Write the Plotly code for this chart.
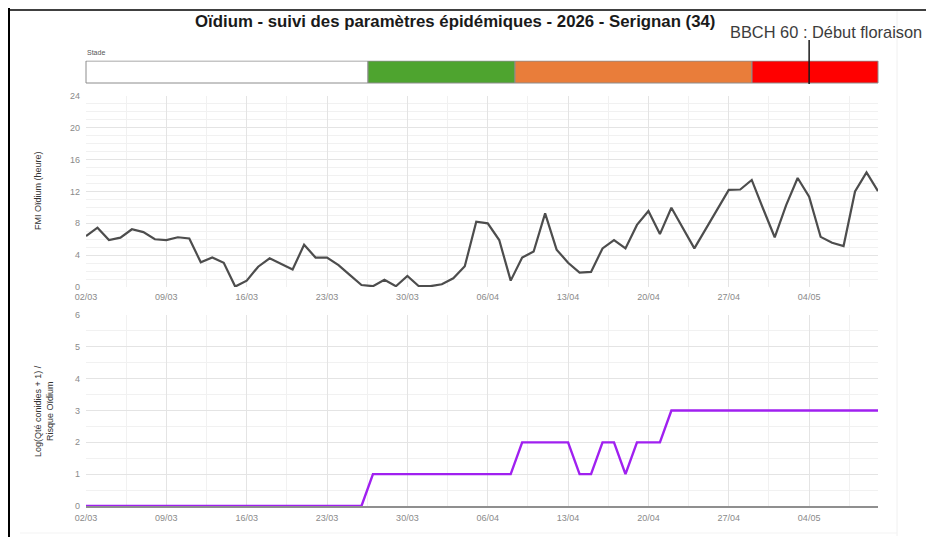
import plotly.graph_objects as go
import pandas as pd

# ---------------- data ----------------
start_date = "2026-03-02"
end_date = "2026-05-10"
dates = pd.date_range(start_date, end_date, freq="D")

fmi_hours = [6.4, 7.45, 5.9, 6.2, 7.25, 6.9, 6.0,
             5.9, 6.25, 6.1, 3.1, 3.7, 3.05, 0.05,
             0.8, 2.55, 3.6, 2.9, 2.2, 5.3, 3.7,
             3.7, 2.75, 1.5, 0.25, 0.1, 0.9, 0.1,
             1.4, 0.1, 0.1, 0.35, 1.1, 2.6, 8.2,
             8.0, 5.9, 0.8, 3.7, 4.45, 9.25, 4.7,
             3.05, 1.8, 1.9, 4.85, 5.9, 4.85, 7.8,
             9.55, 6.65, 9.95, 7.35, 4.85, 7.3, 9.8,
             12.2, 12.25, 13.45, 9.8, 6.25, 10.3, 13.7,
             11.35, 6.3, 5.55, 5.15, 12.0, 14.4, 12.05]

risk_log = [0] * 25 + [1] * 13 + [2] * 5 + [1] * 2 + [2] * 2 + [1] + [2] * 3 + [3] * 19

stage_starts = ["2026-03-02 00:00", "2026-03-26 14:24", "2026-04-08 09:36", "2026-04-29 02:24"]
stage_ends = ["2026-03-26 14:24", "2026-04-08 09:36", "2026-04-29 02:24", "2026-05-10 00:00"]
stage_colors = ["#ffffff", "#4ea42f", "#e97d3a", "#ff0000"]

bbch_date = "2026-05-04"
bbch_label = "BBCH 60 : Début floraison"
title_text = "Oïdium - suivi des paramètres épidémiques - 2026 - Serignan (34)"
y1_title = "FMI Oïdium (heure)"
y2_title = "Log(Qté conidies + 1) /<br>Risque Oïdium"
stade_label = "Stade"

# ---------------- layout helpers ----------------
W, H = 934, 537
OFF = 8  # page body margin
def px(x):
    return (x - OFF) / W
def py(y):
    return 1 - (y - OFF) / H

X0, X1 = 86, 878
FONT = "Liberation Sans, Arial, sans-serif"

# stade axis is slightly wider on each side so the bar outline is not clipped
ms_per_px = (pd.Timestamp(end_date) - pd.Timestamp(start_date)).total_seconds() * 1000 / (X1 - X0)
stade_range = [pd.Timestamp(start_date) - pd.Timedelta(milliseconds=1.5 * ms_per_px),
               pd.Timestamp(end_date) + pd.Timedelta(milliseconds=1.5 * ms_per_px)]

fig = go.Figure()

# Stade bar (timeline)
durations = [(pd.Timestamp(e) - pd.Timestamp(s)).total_seconds() * 1000 for s, e in zip(stage_starts, stage_ends)]
fig.add_trace(go.Bar(
    x=durations, base=stage_starts, y=[0] * len(durations), width=1,
    orientation="h", marker=dict(color=stage_colors, line=dict(color="#8c8c8c", width=1)),
    xaxis="x3", yaxis="y3", showlegend=False, hoverinfo="skip"))

# FMI line
fig.add_trace(go.Scatter(x=dates, y=fmi_hours, mode="lines",
                         line=dict(color="#4d4d4d", width=2.2),
                         xaxis="x", yaxis="y", showlegend=False))

# Risk line
fig.add_trace(go.Scatter(x=dates, y=risk_log, mode="lines",
                         line=dict(color="#a020f0", width=2.4),
                         xaxis="x2", yaxis="y2", showlegend=False))

tickfont = dict(family=FONT, size=9, color="#8a8a8a")
xcommon = dict(type="date", range=[start_date, end_date], tick0=start_date, dtick=7 * 86400000,
               tickformat="%d/%m", showgrid=True, gridcolor="#e4e4e4", gridwidth=1,
               minor=dict(dtick=3.5 * 86400000, tick0=start_date, showgrid=True, gridcolor="#f1f1f1"),
               ticks="", tickfont=tickfont, zeroline=False, fixedrange=True, automargin=False)

fig.update_layout(
    template="none",
    width=W, height=H, margin=dict(l=0, r=0, t=0, b=0, pad=0, autoexpand=False),
    paper_bgcolor="white", plot_bgcolor="white",
    font=dict(family=FONT, color="#444444"),
    bargap=0, showlegend=False,
    xaxis=dict(domain=[px(X0), px(X1)], anchor="y", showline=False, ticklabelstandoff=3, **xcommon),
    yaxis=dict(domain=[py(287), py(96)], anchor="x", range=[0, 24], dtick=4,
               showgrid=True, gridcolor="#e4e4e4", zeroline=False, ticks="", showline=False,
               minor=dict(dtick=1, showgrid=True, gridcolor="#f1f1f1"),
               tickfont=tickfont, ticklabelstandoff=5, automargin=False),
    xaxis2=dict(domain=[px(X0), px(X1)], anchor="y2", showline=True, linecolor="#8f8f8f",
                linewidth=2, layer="below traces", ticklabelstandoff=2, **xcommon),
    yaxis2=dict(domain=[py(506), py(315)], anchor="x2", range=[0, 6], dtick=1,
                showgrid=True, gridcolor="#e4e4e4", zeroline=False, ticks="", showline=False,
                minor=dict(dtick=0.5, showgrid=True, gridcolor="#f1f1f1"),
                tickfont=tickfont, ticklabelstandoff=5, automargin=False),
    xaxis3=dict(domain=[px(X0 - 1.5), px(X1 + 1.5)], anchor="y3", type="date", range=stade_range,
                visible=False, fixedrange=True, automargin=False),
    yaxis3=dict(domain=[py(84.5), py(60.5)], anchor="x3", range=[-0.53, 0.53], visible=False,
                automargin=False),
)

# BBCH marker line
fig.add_shape(type="line", xref="x3", yref="paper", x0=bbch_date, x1=bbch_date,
              y0=py(84), y1=py(40), line=dict(color="#1a1a1a", width=1.5))

# Texts
fig.add_annotation(text="<b>" + title_text + "</b>", xref="paper", yref="paper",
                   x=px(455), y=py(22), xanchor="center", yanchor="middle", showarrow=False,
                   font=dict(size=16.8, color="#1a1a1a", family=FONT))
fig.add_annotation(text=bbch_label, xref="paper", yref="paper",
                   x=px(826), y=py(32), xanchor="center", yanchor="middle", showarrow=False,
                   font=dict(size=16.4, color="#3c3c3c", family=FONT))
fig.add_annotation(text=stade_label, xref="paper", yref="paper",
                   x=px(85), y=py(52), xanchor="left", yanchor="middle", showarrow=False,
                   font=dict(size=7, color="#555555", family=FONT))
fig.add_annotation(text=y1_title, xref="paper", yref="paper", textangle=-90,
                   x=px(38), y=py(191), xanchor="center", yanchor="middle", showarrow=False,
                   font=dict(size=9, color="#333333", family=FONT))
fig.add_annotation(text=y2_title, xref="paper", yref="paper", textangle=-90,
                   x=px(44), y=py(411), xanchor="center", yanchor="middle", showarrow=False,
                   font=dict(size=9, color="#333333", family=FONT))

# Screenshot frame
fig.add_shape(type="line", xref="paper", yref="paper", x0=px(9), x1=px(9), y0=-0.05, y1=1.05,
              line=dict(color="black", width=2))
fig.add_shape(type="line", xref="paper", yref="paper", x0=px(8), x1=1.05, y0=py(10), y1=py(10),
              line=dict(color="black", width=1.5))
fig.add_shape(type="line", xref="paper", yref="paper", x0=px(897), x1=px(897), y0=py(536), y1=py(11),
              line=dict(color="#f0f0f0", width=1))
fig.add_shape(type="line", xref="paper", yref="paper", x0=px(20), x1=px(897), y0=py(533), y1=py(533),
              line=dict(color="#f3f3f3", width=1))

fig.write_html("out.html")
